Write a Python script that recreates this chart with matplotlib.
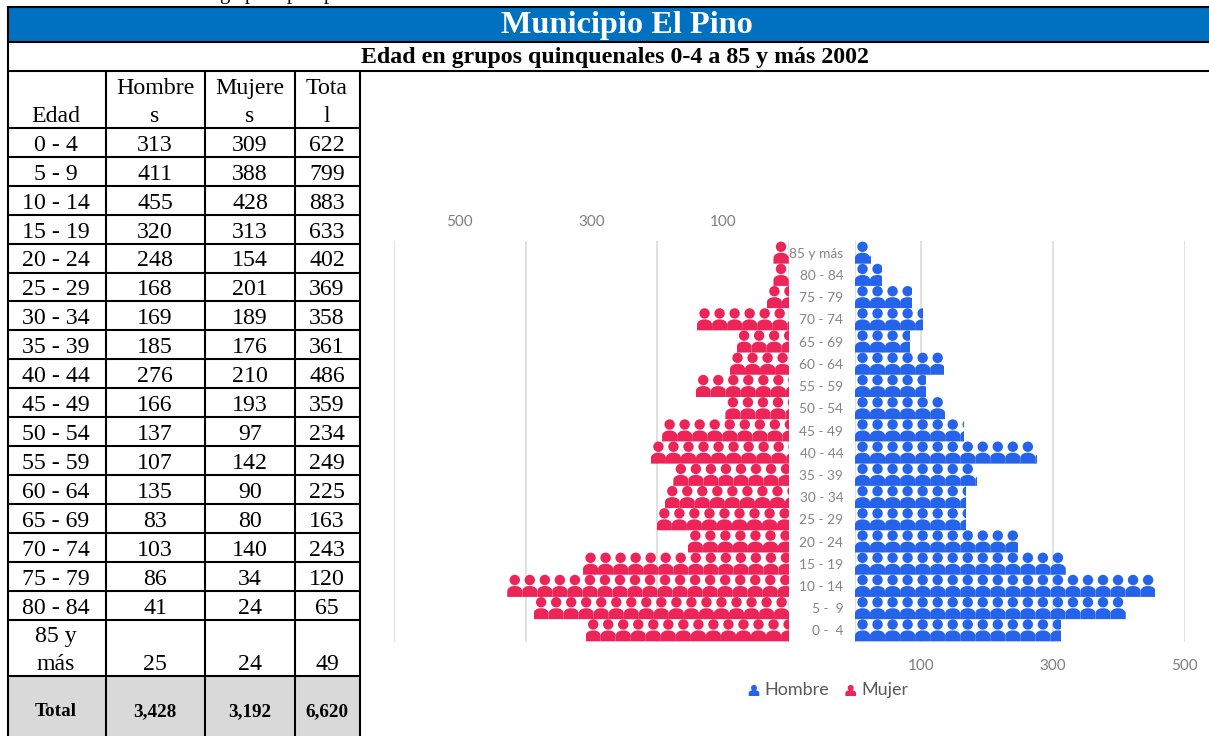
import matplotlib
matplotlib.use("Agg")
import matplotlib.pyplot as plt
from matplotlib.patches import PathPatch, Rectangle
from matplotlib.path import Path
import numpy as np

W, H = 1209, 736

edad = ["0 - 4", "5 - 9", "10 - 14", "15 - 19", "20 - 24", "25 - 29", "30 - 34", "35 - 39", "40 - 44",
        "45 - 49", "50 - 54", "55 - 59", "60 - 64", "65 - 69", "70 - 74", "75 - 79", "80 - 84", "85 y\nmás"]
hombres = [313, 411, 455, 320, 248, 168, 169, 185, 276, 166, 137, 107, 135, 83, 103, 86, 41, 25]
mujeres = [309, 388, 428, 313, 154, 201, 189, 176, 210, 193, 97, 142, 90, 80, 140, 34, 24, 24]
totales = [622, 799, 883, 633, 402, 369, 358, 361, 486, 359, 234, 249, 225, 163, 243, 120, 65, 49]
total_row = ["Total", "3,428", "3,192", "6,620"]
chart_labels = ["0 -  4", "5 -  9", "10 - 14", "15 - 19", "20 - 24", "25 - 29", "30 - 34", "35 - 39", "40 - 44",
                "45 - 49", "50 - 54", "55 - 59", "60 - 64", "65 - 69", "70 - 74", "75 - 79", "80 - 84", "85 y más"]

BLUE = "#2563EB"
PINK = "#EC2458"
GRID = "#D9D9D9"
SERIF = "Liberation Serif"
SANS = "Lato"
PX_PER_UNIT = 0.659
ROW_PX = 22.2
TILE_PX = 15.03


def person_path(w, head_r, head_cy, body_top, body_bottom, corner_x, corner_y):
    """Person icon in pixels, origin at left of tile, y grows downwards."""
    head = Path.unit_circle()
    head = Path(head.vertices * head_r + [w / 2, head_cy], head.codes)
    k = 0.55
    verts = [(0, body_bottom), (0, body_top + corner_y),
             (0, body_top + corner_y * (1 - k)), (corner_x * (1 - k), body_top), (corner_x, body_top),
             (w - corner_x, body_top),
             (w - corner_x * (1 - k), body_top), (w, body_top + corner_y * (1 - k)), (w, body_top + corner_y),
             (w, body_bottom), (0, body_bottom)]
    codes = [Path.MOVETO, Path.LINETO,
             Path.CURVE4, Path.CURVE4, Path.CURVE4,
             Path.LINETO,
             Path.CURVE4, Path.CURVE4, Path.CURVE4,
             Path.LINETO, Path.CLOSEPOLY]
    return Path.make_compound_path(head, Path(verts, codes))


ICON = person_path(TILE_PX, 5.2, -6.0, 0.0, 10.9, 7.0, 5.0)


def draw_row(ax, value, row, color, anchor_end):
    tile = TILE_PX / PX_PER_UNIT
    clip = Rectangle((0, row - 0.6), value, 1.2, transform=ax.transData)
    n = int(np.ceil(value / tile))
    for k in range(n):
        if anchor_end:
            # mujeres: tiles start at the outer end of the bar
            start = value - k * tile
            x = start - ICON.vertices[:, 0] / PX_PER_UNIT
        else:
            x = k * tile + ICON.vertices[:, 0] / PX_PER_UNIT
        y = row - ICON.vertices[:, 1] / ROW_PX
        patch = PathPatch(Path(np.column_stack([x, y]), ICON.codes), facecolor=color, edgecolor="none", zorder=3)
        ax.add_patch(patch)
        patch.set_clip_path(clip)


def axes_px(fig, left, top, right, bottom):
    return fig.add_axes([left / W, 1 - bottom / H, (right - left) / W, (bottom - top) / H])


fig = plt.figure(figsize=(W / 100, H / 100), dpi=100)

# table and headers, drawn in pixel coordinates
bg = fig.add_axes([0, 0, 1, 1])
bg.set_xlim(0, W)
bg.set_ylim(H, 0)
bg.axis("off")

bg.add_patch(Rectangle((7, 7), W - 7, 35, facecolor="#0070C0", edgecolor="none"))
bg.add_patch(Rectangle((7, 676), 353, 60, facecolor="#D9D9D9", edgecolor="none"))

col_x = [7.5, 105.5, 205, 294.7, 360]
col_c = [56, 155, 250, 327]
row_y = [127.7 + 28.96 * k for k in range(18)] + [676]

lw = 1.5
for y in [7, 42, 70.7]:
    bg.plot([7, W], [y, y], color="black", lw=lw, solid_capstyle="butt")
for y in row_y:
    bg.plot([7, 360], [y, y], color="black", lw=lw, solid_capstyle="butt")
bg.plot([7.5, 7.5], [6, H], color="black", lw=lw, solid_capstyle="butt")
for x in col_x[1:]:
    bg.plot([x, x], [70.7, H], color="black", lw=lw, solid_capstyle="butt")

# cut-off line of text above the table
for ch, x in zip(["g", "p", "p", "p"], [224, 250, 292, 329]):
    bg.text(x, -1, ch, family=SERIF, fontsize=15, ha="center", va="baseline", color="black", clip_on=False)

bg.text(626.5, 25, "Municipio El Pino", family=SERIF, fontsize=23.3, fontweight="bold", color="white",
        ha="center", va="center")
bg.text(615, 57, "Edad en grupos quinquenales 0-4 a 85 y más 2002", family=SERIF, fontsize=17.2,
        fontweight="bold", color="black", ha="center", va="center")

cell = dict(family=SERIF, fontsize=17.2, ha="center", va="baseline", color="black")
bg.text(col_c[0], 121.7, "Edad", **cell)
for x, top, bot in zip(col_c[1:], ["Hombre", "Mujere", "Tota"], ["s", "s", "l"]):
    bg.text(x, 94.3, top, **cell)
    bg.text(x, 121.7, bot, **cell)

for i, (e, h, m, t) in enumerate(zip(edad, hombres, mujeres, totales)):
    base = row_y[i + 1] - 6
    lines = e.split("\n")
    for j, line in enumerate(lines):
        bg.text(col_c[0], base - 27.7 * (len(lines) - 1 - j), line, **cell)
    for x, v in zip(col_c[1:], [h, m, t]):
        bg.text(x, base, str(v), **cell)

for x, s in zip(col_c, total_row):
    bg.text(x, 716, s, family=SERIF, fontsize=13.8, fontweight="bold", ha="center", va="baseline", color="black")

# pyramid
ylim = (-0.52, 17.53)
right = axes_px(fig, 855, 241, 855 + 500 * PX_PER_UNIT, 642)
left = axes_px(fig, 789.3 - 600 * PX_PER_UNIT, 241, 789.3, 642)
for ax in (left, right):
    ax.patch.set_visible(False)
    ax.set_ylim(*ylim)
    for s in ax.spines.values():
        s.set_visible(False)
    ax.tick_params(length=0, which="both", labelsize=11, labelcolor="#7F7F7F")
    ax.set_axisbelow(True)

right.set_xlim(0, 500)
right.set_xticks([100, 300, 500])
right.set_xticks([0], minor=True)
right.grid(True, axis="x", which="both", color=GRID, lw=1.1)
right.set_yticks(range(len(chart_labels)))
right.set_yticklabels(chart_labels, fontsize=9.9, color="#858585", family=SANS)
right.tick_params(axis="y", pad=8.5)
right.tick_params(axis="x", pad=12.5)

left.set_xlim(600, 0)
left.xaxis.tick_top()
left.set_xticks([100, 300, 500])
left.set_xticks([0, 200, 400, 600], minor=True)
left.grid(False, axis="x", which="major")
left.grid(True, axis="x", which="minor", color=GRID, lw=1.1)
left.set_yticks([])
left.tick_params(axis="x", pad=9)

for ax in (left, right):
    for lab in ax.get_xticklabels():
        lab.set_family(SANS)

for i, (h, m) in enumerate(zip(hombres, mujeres)):
    draw_row(right, h, i, BLUE, False)
    draw_row(left, m, i, PINK, True)

# labels sit over the chart
right.set_zorder(3)
left.set_zorder(2)

# legend
mini = person_path(10.6, 3.0, 687.9, 690.4, 696, 3.5, 2.5)
for x, color, label, tx in [(748.7, BLUE, "Hombre", 764), (845.4, PINK, "Mujer", 861.5)]:
    bg.add_patch(PathPatch(Path(mini.vertices + [x, 0], mini.codes), facecolor=color, edgecolor="none"))
    bg.text(tx, 690, label, family=SANS, fontsize=13, color="#595959", ha="left", va="center")

fig.savefig("out.png", dpi=100)
